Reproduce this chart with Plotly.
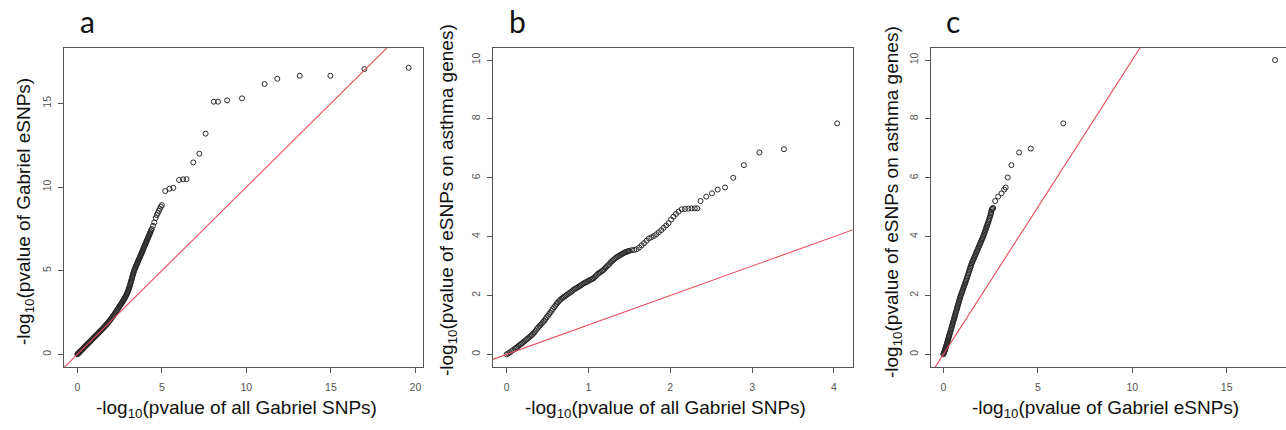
import plotly.graph_objects as go

# ---------------- data ----------------
# Panel a: -log10 p of all Gabriel SNPs (x) vs Gabriel eSNPs (y)
a_x = [0.00, 0.02, 0.04, 0.06, 0.08, 0.10, 0.12, 0.15, 0.18, 0.21, 0.24, 0.27, 0.30, 0.33,
       0.36, 0.39, 0.42, 0.45, 0.48, 0.51, 0.54, 0.57, 0.60, 0.64, 0.68, 0.72, 0.76, 0.80,
       0.84, 0.88, 0.92, 0.96, 1.00, 1.04, 1.08, 1.12, 1.16, 1.20, 1.24, 1.28, 1.32, 1.36,
       1.40, 1.44, 1.48, 1.52,
       1.56, 1.60, 1.64, 1.68, 1.72, 1.76, 1.80, 1.84, 1.88, 1.92, 1.96, 2.00, 2.04, 2.08,
       2.12, 2.16, 2.20, 2.24, 2.28, 2.32, 2.36, 2.40, 2.44, 2.48, 2.52, 2.56, 2.60, 2.63,
       2.66, 2.69, 2.72, 2.75, 2.78, 2.81, 2.84, 2.87, 2.90, 2.93, 2.96, 2.98,
       3.005, 3.03, 3.05, 3.07, 3.09, 3.11, 3.13, 3.15, 3.17, 3.19, 3.21, 3.23, 3.25, 3.27,
       3.29, 3.31, 3.33, 3.35, 3.375, 3.40, 3.425, 3.45, 3.475, 3.50, 3.525, 3.55, 3.575,
       3.60, 3.625, 3.65, 3.675, 3.70, 3.725, 3.75, 3.775, 3.80, 3.825, 3.85, 3.875, 3.90,
       3.925, 3.95, 3.975, 4.00, 4.025, 4.05, 4.075, 4.10, 4.125, 4.15, 4.175, 4.20, 4.225,
       4.25, 4.275, 4.30, 4.33, 4.36, 4.40,
       4.48, 4.55, 4.63, 4.70, 4.76, 4.82, 4.88, 4.94, 5.00,
       5.20, 5.45, 5.68, 6.02, 6.25, 6.46, 6.86, 7.22, 7.59, 8.07, 8.32, 8.86, 9.74,
       11.08, 11.83, 13.16, 14.97, 16.98, 19.60]
a_y = [0.00, 0.02, 0.04, 0.06, 0.08, 0.10, 0.12, 0.15, 0.18, 0.21, 0.24, 0.27, 0.30, 0.33,
       0.36, 0.40, 0.43, 0.46, 0.49, 0.52, 0.55, 0.58, 0.61, 0.65, 0.69, 0.73, 0.77, 0.81,
       0.86, 0.90, 0.94, 0.98, 1.02, 1.06, 1.10, 1.14, 1.18, 1.22, 1.26, 1.31, 1.35, 1.39,
       1.43, 1.47, 1.51, 1.55,
       1.60, 1.64, 1.69, 1.73, 1.78, 1.82, 1.87, 1.92, 1.97, 2.02, 2.08, 2.13, 2.18, 2.24,
       2.30, 2.35, 2.41, 2.47, 2.53, 2.60, 2.66, 2.72, 2.78, 2.85, 2.91, 2.97, 3.02, 3.07,
       3.12, 3.17, 3.22, 3.27, 3.32, 3.38, 3.43, 3.49, 3.55, 3.61, 3.68, 3.73,
       3.80, 3.86, 3.92, 3.99, 4.05, 4.12, 4.19, 4.26, 4.33, 4.40, 4.47, 4.55, 4.62, 4.70,
       4.77, 4.84, 4.90, 4.97, 5.04, 5.10, 5.16, 5.22, 5.28, 5.34, 5.40, 5.46, 5.52,
       5.58, 5.64, 5.70, 5.75, 5.81, 5.87, 5.93, 5.99, 6.05, 6.11, 6.17, 6.23, 6.29,
       6.35, 6.41, 6.47, 6.53, 6.59, 6.65, 6.71, 6.77, 6.83, 6.89, 6.95, 7.01, 7.07,
       7.13, 7.19, 7.25, 7.32, 7.40, 7.49,
       7.68, 7.88, 8.15, 8.32, 8.45, 8.58, 8.70, 8.82, 8.92,
       9.76, 9.90, 9.95, 10.42, 10.46, 10.47, 11.47, 11.99, 13.19, 15.10, 15.10, 15.18, 15.30,
       16.16, 16.47, 16.65, 16.65, 17.05, 17.13]

# Panel b: -log10 p of all Gabriel SNPs (x) vs eSNPs on asthma genes (y)
b_x = [0.00, 0.02, 0.04, 0.06, 0.08, 0.10, 0.13, 0.16, 0.19, 0.22, 0.25, 0.28, 0.31, 0.34,
       0.37, 0.40, 0.43, 0.46, 0.49, 0.52, 0.55, 0.58, 0.61, 0.64, 0.67, 0.70, 0.73, 0.76,
       0.79, 0.82, 0.85, 0.88, 0.91, 0.94, 0.97, 1.00, 1.03, 1.06, 1.09, 1.12, 1.15, 1.18,
       1.21, 1.24, 1.27, 1.30, 1.33, 1.36, 1.39, 1.42, 1.45, 1.48,
       1.50, 1.53, 1.56, 1.59, 1.62, 1.65, 1.68, 1.71, 1.74, 1.77, 1.80, 1.83, 1.86, 1.89,
       1.92, 1.95, 1.98, 2.01, 2.04, 2.07, 2.10,
       2.14, 2.18, 2.22, 2.26, 2.30, 2.33,
       2.37, 2.44, 2.51, 2.58, 2.67, 2.77, 2.90, 3.09, 3.39, 4.04]
b_y = [0.00, 0.03, 0.07, 0.11, 0.15, 0.19, 0.25, 0.32, 0.38, 0.45, 0.52, 0.59, 0.66, 0.75,
       0.86, 0.96, 1.05, 1.14, 1.26, 1.37, 1.48, 1.60, 1.71, 1.81, 1.89, 1.95, 2.01, 2.07,
       2.13, 2.20, 2.25, 2.30, 2.35, 2.41, 2.45, 2.50, 2.54, 2.58, 2.66, 2.75, 2.80, 2.86,
       2.95, 3.03, 3.12, 3.20, 3.27, 3.33, 3.38, 3.42, 3.47, 3.50,
       3.52, 3.54, 3.55, 3.57, 3.63, 3.70, 3.78, 3.86, 3.94, 3.98, 4.02, 4.08, 4.15, 4.22,
       4.30, 4.38, 4.46, 4.58, 4.68, 4.77, 4.85,
       4.93, 4.94, 4.95, 4.96, 4.96, 4.96,
       5.21, 5.36, 5.47, 5.60, 5.67, 6.00, 6.43, 6.86, 6.97, 7.85]
# further points read inside the dense band of panel b
b_x_band = [0.115, 0.145, 0.175, 0.205, 0.235, 0.265, 0.295, 0.325, 0.355, 0.385, 0.415,
            0.445, 0.475, 0.505, 0.535, 0.565, 0.595, 0.625, 0.655, 0.685, 0.715, 0.745,
            0.775, 0.805, 0.835, 0.865, 0.895, 0.925, 0.955, 0.985, 1.015, 1.045, 1.075,
            1.105, 1.135, 1.165, 1.195, 1.225, 1.255, 1.285, 1.315, 1.345, 1.375, 1.405,
            1.435, 1.465, 1.49]
b_y_band = [0.22, 0.285, 0.35, 0.415, 0.485, 0.555, 0.625, 0.70, 0.80, 0.91, 1.00,
            1.10, 1.20, 1.31, 1.42, 1.54, 1.65, 1.76, 1.85, 1.92, 1.98, 2.04,
            2.10, 2.16, 2.22, 2.27, 2.32, 2.38, 2.43, 2.47, 2.52, 2.56, 2.62,
            2.70, 2.77, 2.83, 2.90, 2.99, 3.07, 3.16, 3.23, 3.30, 3.35, 3.40,
            3.45, 3.48, 3.51]

# Panel c: -log10 p of Gabriel eSNPs (x) vs eSNPs on asthma genes (y)
c_x = [0.00, 0.03, 0.06, 0.09, 0.12, 0.15, 0.18, 0.21, 0.24, 0.27, 0.30, 0.34, 0.38, 0.42,
       0.46, 0.50, 0.54, 0.58, 0.62, 0.66, 0.70, 0.74, 0.78, 0.82, 0.86, 0.90, 0.95, 1.00,
       1.05, 1.10, 1.15, 1.20, 1.25, 1.30, 1.35, 1.40, 1.45, 1.50, 1.56, 1.62, 1.68, 1.74,
       1.80, 1.86, 1.92, 1.98, 2.04, 2.10, 2.15, 2.20, 2.25, 2.30, 2.35, 2.40, 2.45, 2.50,
       2.53, 2.55, 2.58, 2.61, 2.64,
       2.74, 2.90, 3.08, 3.22, 3.30, 3.41, 3.60, 4.01, 4.63, 6.35, 17.56]
c_y = [0.00, 0.05, 0.10, 0.16, 0.22, 0.28, 0.34, 0.41, 0.48, 0.55, 0.62, 0.70, 0.79, 0.88,
       0.97, 1.06, 1.15, 1.24, 1.33, 1.42, 1.51, 1.60, 1.69, 1.78, 1.87, 1.96, 2.05, 2.14,
       2.23, 2.32, 2.41, 2.50, 2.60, 2.70, 2.80, 2.90, 3.00, 3.09, 3.18, 3.27, 3.36, 3.45,
       3.54, 3.63, 3.72, 3.81, 3.90, 3.99, 4.08, 4.17, 4.26, 4.35, 4.44, 4.54, 4.64, 4.74,
       4.84, 4.90, 4.94, 4.96, 4.97,
       5.21, 5.36, 5.47, 5.60, 5.67, 6.01, 6.43, 6.86, 6.99, 7.85, 10.00]
# further points read inside the dense band of panel c
c_x_band = [0.015, 0.045, 0.075, 0.105, 0.135, 0.165, 0.195, 0.225, 0.255, 0.285, 0.32,
            0.36, 0.40, 0.44, 0.48, 0.52, 0.56, 0.60, 0.64, 0.68, 0.72, 0.76, 0.80, 0.84,
            0.88, 0.925, 0.975, 1.025, 1.075, 1.125, 1.175, 1.225, 1.275, 1.325, 1.375,
            1.425, 1.475, 1.53, 1.59, 1.65, 1.71, 1.77, 1.83, 1.89, 1.95, 2.01, 2.07,
            2.125, 2.175, 2.225, 2.275, 2.325, 2.375, 2.425, 2.475, 2.515]
c_y_band = [0.025, 0.075, 0.13, 0.19, 0.25, 0.31, 0.375, 0.445, 0.515, 0.585, 0.66,
            0.745, 0.835, 0.925, 1.015, 1.105, 1.195, 1.285, 1.375, 1.465, 1.555, 1.645,
            1.735, 1.825, 1.915, 2.005, 2.095, 2.185, 2.275, 2.365, 2.455, 2.55, 2.65,
            2.75, 2.85, 2.95, 3.045, 3.135, 3.225, 3.315, 3.405, 3.495, 3.585, 3.675,
            3.765, 3.855, 3.945, 4.035, 4.125, 4.215, 4.305, 4.395, 4.49, 4.59, 4.69, 4.79]

panel_letters = ["a", "b", "c"]
x_titles = ["-log<sub>10</sub>(pvalue of all Gabriel SNPs)",
            "-log<sub>10</sub>(pvalue of all Gabriel SNPs)",
            "-log<sub>10</sub>(pvalue of Gabriel eSNPs)"]
y_titles = ["-log<sub>10</sub>(pvalue of Gabriel eSNPs)",
            "-log<sub>10</sub>(pvalue of eSNPs on asthma genes)",
            "-log<sub>10</sub>(pvalue of eSNPs on asthma genes)"]
x_ticks = [[0, 5, 10, 15, 20], [0, 1, 2, 3, 4], [0, 5, 10, 15]]
y_ticks = [[0, 5, 10, 15], [0, 2, 4, 6, 8, 10], [0, 2, 4, 6, 8, 10]]

# ---------------- layout geometry ----------------
W, H = 1286, 430
x_ranges = [[-0.79, 20.45], [-0.17, 4.23], [-0.67, 18.14]]
y_ranges = [[-0.76, 18.31], [-0.43, 10.41], [-0.43, 10.41]]
x_px = [(64, 423), (492.7, 852.7), (930.7, 1286)]
y_px = (48, 367)  # top, bottom
ydom = [1 - y_px[1] / H, 1 - y_px[0] / H]
xtitle_cx = [236, 665, 1105]
ytitle_x = [25, 448, 893]
ytitle_cy = [212, 200, 202]
letter_x = [87, 517, 953]

AX = "#555555"
PT = "#2a2a2a"
TICKFONT = dict(family="Liberation Sans, Arial, sans-serif", size=10.5, color="#555555")
TITLEFONT = dict(family="Liberation Sans, Arial, sans-serif", size=19, color="#111111")

fig = go.Figure()
series = [(a_x, a_y), (b_x + b_x_band, b_y + b_y_band), (c_x + c_x_band, c_y + c_y_band)]
for i, (xs, ys) in enumerate(series):
    xa = "x" if i == 0 else f"x{i+1}"
    ya = "y" if i == 0 else f"y{i+1}"
    fig.add_trace(go.Scatter(
        x=xs, y=ys, mode="markers", xaxis=xa, yaxis=ya, showlegend=False,
        marker=dict(symbol="circle-open", size=5, color=PT,
                    line=dict(width=1, color=PT)),
        hoverinfo="x+y"))
    lo = min(x_ranges[i][0], y_ranges[i][0])
    hi = max(x_ranges[i][1], y_ranges[i][1])
    fig.add_trace(go.Scatter(
        x=[lo, hi], y=[lo, hi], mode="lines", xaxis=xa, yaxis=ya, showlegend=False,
        line=dict(color="#e84a5a", width=1.1), hoverinfo="skip"))

layout = dict(
    width=W, height=H, margin=dict(l=0, r=0, t=0, b=0),
    paper_bgcolor="white", plot_bgcolor="white", template="none",
    showlegend=False,
)
annotations = []
for i in range(3):
    sfx = "" if i == 0 else str(i + 1)
    x0, x1 = x_px[i]
    layout[f"xaxis{sfx}"] = dict(
        domain=[x0 / W, min(x1 / W, 1.0)], range=x_ranges[i],
        anchor=f"y{sfx}", showgrid=False, zeroline=False,
        showline=True, mirror=True, linecolor=AX, linewidth=1,
        ticks="outside", ticklen=5, tickwidth=1, tickcolor=AX,
        tickvals=x_ticks[i], tickfont=TICKFONT, ticklabelstandoff=5,
    )
    layout[f"yaxis{sfx}"] = dict(
        domain=ydom, range=y_ranges[i],
        anchor=f"x{sfx}", showgrid=False, zeroline=False,
        showline=True, mirror=(i < 2), linecolor=AX, linewidth=1,
        ticks="outside", ticklen=5, tickwidth=1, tickcolor=AX,
        tickvals=y_ticks[i], tickfont=TICKFONT, tickangle=-90,
        ticklabelstandoff=3,
    )
    annotations.append(dict(
        text=x_titles[i], xref="paper", yref="paper",
        x=xtitle_cx[i] / W, y=1 - 409 / H, xanchor="center", yanchor="middle",
        showarrow=False, font=TITLEFONT))
    annotations.append(dict(
        text=y_titles[i], xref="paper", yref="paper",
        x=ytitle_x[i] / W, y=1 - ytitle_cy[i] / H, xanchor="center", yanchor="middle",
        textangle=-90, showarrow=False, font=TITLEFONT))
    annotations.append(dict(
        text=panel_letters[i], xref="paper", yref="paper",
        x=letter_x[i] / W, y=1 - 21 / H, xanchor="center", yanchor="middle",
        showarrow=False,
        font=dict(family="Lato, Open Sans, sans-serif", size=30, color="#111111")))

layout["annotations"] = annotations
fig.update_layout(**layout)
fig.write_html("out.html",
               config={"displayModeBar": False},
               post_script="document.body.style.margin='0';document.body.style.overflow='hidden';")
